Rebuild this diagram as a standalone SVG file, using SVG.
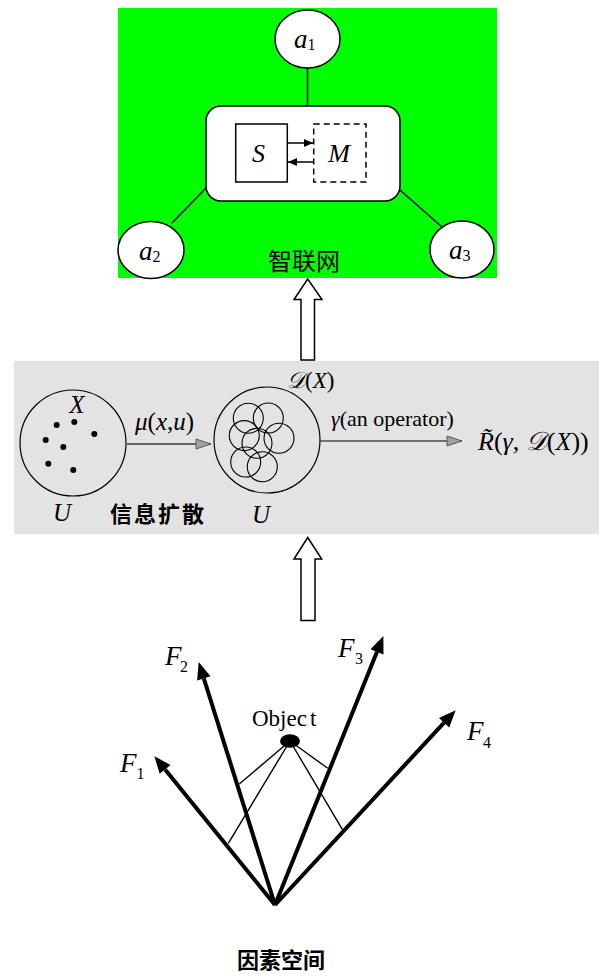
<svg xmlns="http://www.w3.org/2000/svg" width="599" height="977" viewBox="0 0 599 977">
<style>
.m{font-family:"Liberation Serif","Times New Roman","DejaVu Serif",serif;font-style:italic;fill:#000}
.r{font-family:"Liberation Serif","Times New Roman","DejaVu Serif",serif;font-style:normal;fill:#000}
.sub{font-family:"Liberation Serif","Times New Roman","DejaVu Serif",serif;font-style:normal;font-size:16px}
.cjk{font-family:"Noto Sans CJK SC",sans-serif;fill:#000}
.ln{stroke:#000;stroke-width:1.5;fill:none}
.node{fill:#fff;stroke:#000;stroke-width:1.5}
.hollow{fill:#fff;stroke:#000;stroke-width:1.5}
.fv{stroke:#000;stroke-width:4;fill:none;marker-end:url(#bigHead)}
.thin{stroke:#000;stroke-width:1.4;fill:none}
.dot{fill:#000}
.sc{fill:none;stroke:#000;stroke-width:1.1}
</style>
<defs>
<marker id="bigHead" markerUnits="userSpaceOnUse" markerWidth="17" markerHeight="14" refX="0" refY="7" orient="auto" overflow="visible"><path d="M0,0 L17,7 L0,14 z" fill="#000"/></marker>
<marker id="smallHead" markerUnits="userSpaceOnUse" markerWidth="9" markerHeight="8" refX="9" refY="4" orient="auto" overflow="visible"><path d="M0,0 L9,4 L0,8 z" fill="#000"/></marker>
<marker id="grayHead" markerUnits="userSpaceOnUse" markerWidth="15" markerHeight="10" refX="15" refY="5" orient="auto" overflow="visible"><path d="M0,0 L15,5 L0,10 z" fill="#a0a0a0" stroke="#444" stroke-width="0.8"/></marker>
</defs>

<!-- top panel: 智联网 -->
<g id="panel-top">
<rect x="118" y="8" width="379" height="270" fill="#00ff00"/>
<text class="cjk" x="304" y="270" font-size="24" text-anchor="middle">智联网</text>
</g>

<!-- middle band -->
<g id="panel-middle">
<rect x="14" y="361" width="585" height="173" fill="#e3e3e3"/>
</g>

<g id="node-a1">
<ellipse class="node" cx="307.5" cy="39" rx="32.5" ry="29"/>
<text class="m" x="294" y="48" font-size="27">a<tspan class="sub" dy="2">1</tspan></text>
</g>
<g id="node-a2">
<ellipse class="node" cx="151" cy="250" rx="33" ry="28.5"/>
<text class="m" x="139" y="260" font-size="27">a<tspan class="sub" dy="2">2</tspan></text>
</g>
<g id="node-a3">
<ellipse class="node" cx="462" cy="249.5" rx="32" ry="28.5"/>
<text class="m" x="449" y="259" font-size="27">a<tspan class="sub" dy="2">3</tspan></text>
</g>
<g id="node-agent">
<rect class="node" x="206" y="106" width="194" height="95" rx="15" ry="15"/>
</g>
<g id="node-S">
<rect x="235.7" y="124" width="51.6" height="58" fill="#fff" stroke="#000" stroke-width="1.5"/>
<text class="m" x="258.5" y="162" font-size="26" text-anchor="middle">S</text>
</g>
<g id="node-M">
<rect x="313.7" y="124" width="52.3" height="58" fill="#fff" stroke="#000" stroke-width="1.5" stroke-dasharray="6,4"/>
<text class="m" x="339" y="162" font-size="26" text-anchor="middle">M</text>
</g>

<g id="node-U1">
<circle cx="73" cy="443" r="53" fill="none" stroke="#000" stroke-width="1.2"/>
<circle class="dot" cx="56.7" cy="425" r="3"/>
<circle class="dot" cx="74.3" cy="422" r="3"/>
<circle class="dot" cx="94.3" cy="434" r="3"/>
<circle class="dot" cx="45.7" cy="440" r="3"/>
<circle class="dot" cx="63.3" cy="447" r="3"/>
<circle class="dot" cx="48.3" cy="463.7" r="3"/>
<circle class="dot" cx="73.3" cy="470" r="3"/>
<text class="m" x="77" y="413" font-size="25" text-anchor="middle">X</text>
<text class="m" x="62" y="521" font-size="25" text-anchor="middle">U</text>
</g>
<g id="label-mu">
<text class="m" x="135" y="430" font-size="25">μ<tspan class="r">(</tspan>x<tspan class="r">,</tspan>u<tspan class="r">)</tspan></text>
</g>
<g id="label-diffusion">
<text class="cjk" x="158" y="522" font-size="22" font-weight="bold" text-anchor="middle" letter-spacing="2">信息扩散</text>
</g>
<g id="node-U2">
<circle cx="267" cy="440" r="53" fill="none" stroke="#000" stroke-width="1.2"/>
<circle class="sc" cx="248.3" cy="418.3" r="15"/>
<circle class="sc" cx="268.3" cy="418" r="15"/>
<circle class="sc" cx="244.3" cy="435.6" r="15"/>
<circle class="sc" cx="279" cy="438.3" r="15"/>
<circle class="sc" cx="257" cy="443.3" r="15"/>
<circle class="sc" cx="245.7" cy="462" r="15"/>
<circle class="sc" cx="262.3" cy="466.7" r="15"/>
<text class="m" x="287" y="388" font-size="23">𝒟<tspan class="r">(</tspan>X<tspan class="r">)</tspan></text>
<text class="m" x="261" y="523" font-size="25" text-anchor="middle">U</text>
</g>
<g id="label-gamma">
<text class="m" x="331" y="426" font-size="22">γ<tspan class="r">(an operator)</tspan></text>
</g>
<g id="node-R">
<text class="m" x="478" y="450" font-size="26">R̃<tspan class="r">(</tspan>γ<tspan class="r">, </tspan>𝒟<tspan class="r">(</tspan>X<tspan class="r">))</tspan></text>
</g>

<g id="node-object">
<ellipse cx="290" cy="741" rx="10" ry="6.7" fill="#000"/>
<text class="r" x="252" y="726" font-size="23">Objec<tspan dx="3">t</tspan></text>
</g>
<g id="label-F1"><text class="m" x="120" y="772" font-size="27">F</text><text class="sub" x="136.5" y="779">1</text></g>
<g id="label-F2"><text class="m" x="165" y="665" font-size="27">F</text><text class="sub" x="180" y="672">2</text></g>
<g id="label-F3"><text class="m" x="338" y="657" font-size="27">F</text><text class="sub" x="355" y="664">3</text></g>
<g id="label-F4"><text class="m" x="467" y="740" font-size="27">F</text><text class="sub" x="483" y="748">4</text></g>
<g id="label-factor-space">
<text class="cjk" x="281" y="968" font-size="22" font-weight="bold" text-anchor="middle">因素空间</text>
</g>

<g id="connectors">
<line class="ln" x1="307.5" y1="68" x2="307.5" y2="106"/>
<line class="ln" x1="206" y1="188" x2="172" y2="223"/>
<line class="ln" x1="400" y1="190" x2="442" y2="227"/>
<line class="ln" x1="288" y1="143" x2="313" y2="143" marker-end="url(#smallHead)"/>
<line class="ln" x1="313.7" y1="162" x2="288" y2="162" marker-end="url(#smallHead)"/>
<line x1="126" y1="444" x2="211" y2="444" stroke="#666" stroke-width="2" marker-end="url(#grayHead)"/>
<line x1="320.5" y1="441" x2="462" y2="441" stroke="#000" stroke-width="1.2" marker-end="url(#grayHead)"/>
<polygon class="hollow" points="307.7,279 294,299.5 301,299.5 301,360 314.5,360 314.5,299.5 322,299.5"/>
<polygon class="hollow" points="307.7,537.5 294,559 301,559 301,620.5 315,620.5 315,559 321.7,559"/>
<line class="fv" x1="275" y1="905" x2="165.1" y2="769.4"/>
<line class="fv" x1="275" y1="905" x2="203.8" y2="678.3"/>
<line class="fv" x1="275" y1="905" x2="377" y2="651.8"/>
<line class="fv" x1="275" y1="905" x2="444.1" y2="722.7"/>
<line class="thin" x1="290" y1="741" x2="239.3" y2="784"/>
<line class="thin" x1="290" y1="741" x2="228.3" y2="843.3"/>
<line class="thin" x1="290" y1="741" x2="327.7" y2="768.3"/>
<line class="thin" x1="290" y1="741" x2="342.3" y2="829.3"/>
</g>
</svg>
